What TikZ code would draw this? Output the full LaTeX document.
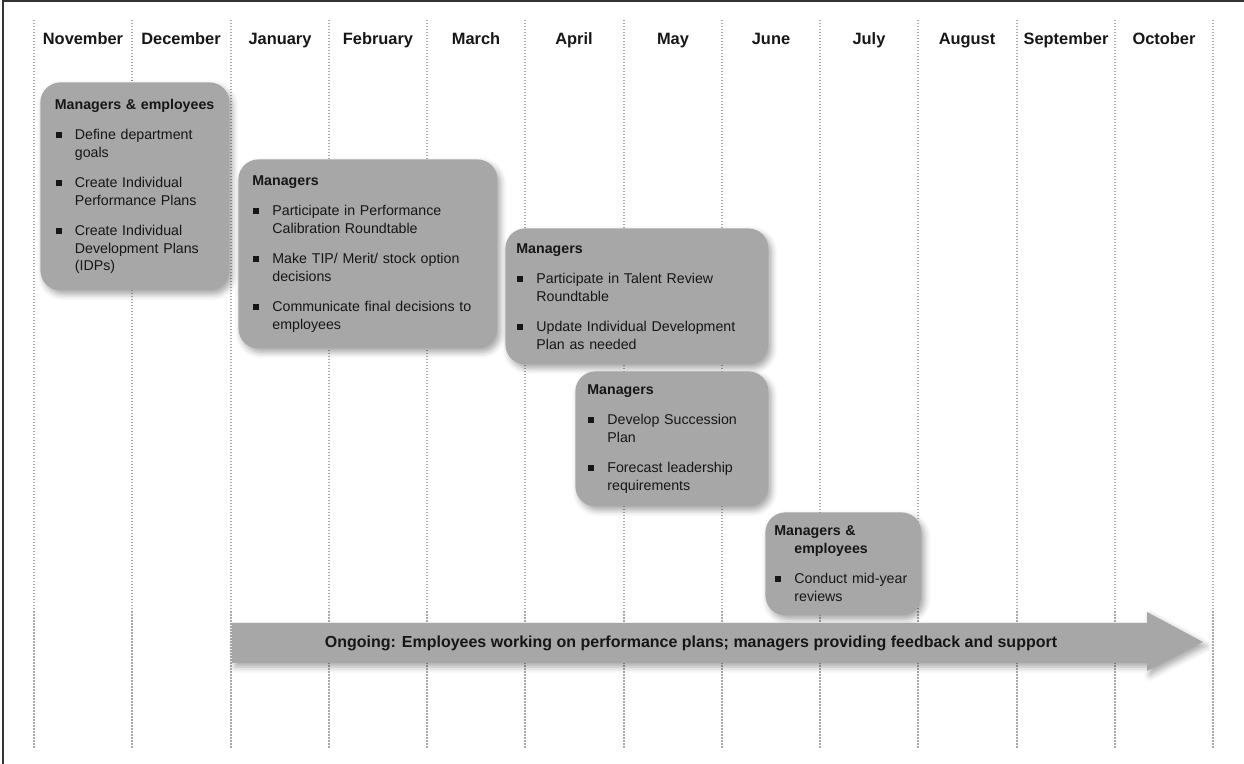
\documentclass[tikz,border=0pt]{standalone}
\usepackage{fontspec}
\setmainfont{Liberation Sans}
\usetikzlibrary{shadows.blur}

\definecolor{taskgray}{RGB}{167,167,167}
\definecolor{gridgray}{RGB}{170,170,170}
\definecolor{inkgray}{RGB}{22,22,22}

\newcommand{\tbul}{\makebox[10pt][l]{\hspace{0.5pt}\rule[0.9pt]{3pt}{3pt}}}
\newcommand{\tind}{\hspace*{10pt}}

\begin{document}
\begin{tikzpicture}[x=0.5pt,y=-0.5pt,
    monthlbl/.style={font=\fontsize{8.2pt}{10pt}\selectfont\bfseries,
      text=inkgray,inner sep=0pt,anchor=base},
    monthline/.style={gridgray,line width=.85pt,dash pattern=on .75pt off .75pt},
    softshadow/.style={blur shadow={shadow xshift=1.5pt,shadow yshift=-2pt,
      shadow blur radius=3pt,shadow opacity=35}},
    task/.style={anchor=north west,fill=taskgray,rounded corners=10pt,
      align=left,inner ysep=0pt,inner xsep=6pt,text=inkgray,softshadow,
      font=\fontsize{7.1pt}{8.75pt}\selectfont}]
    \useasboundingbox (0,0) rectangle (1244,764);

    % Frame of the page, top and left only.
    \draw[line width=.8pt,black!80] (3,764) -- (3,1) -- (1244,1);

    % The month separators.
    \draw[monthline] (34,20) -- (34,748);
    \draw[monthline] (132,20) -- (132,748);
    \draw[monthline] (231,20) -- (231,748);
    \draw[monthline] (329,20) -- (329,748);
    \draw[monthline] (427,20) -- (427,748);
    \draw[monthline] (525,20) -- (525,748);
    \draw[monthline] (624,20) -- (624,748);
    \draw[monthline] (722,20) -- (722,748);
    \draw[monthline] (820,20) -- (820,748);
    \draw[monthline] (918,20) -- (918,748);
    \draw[monthline] (1017,20) -- (1017,748);
    \draw[monthline] (1115,20) -- (1115,748);
    \draw[monthline] (1213,20) -- (1213,748);

    \node[monthlbl] (nov) at (83,45) {November};
    \node[monthlbl] (dec) at (181,45) {December};
    \node[monthlbl] (jan) at (280,45) {January};
    \node[monthlbl] (feb) at (378,45) {February};
    \node[monthlbl] (mar) at (476,45) {March};
    \node[monthlbl] (apr) at (574,45) {April};
    \node[monthlbl] (may) at (673,45) {May};
    \node[monthlbl] (jun) at (771,45) {June};
    \node[monthlbl] (jul) at (869,45) {July};
    \node[monthlbl] (aug) at (967,45) {August};
    \node[monthlbl] (sep) at (1066,45) {September};
    \node[monthlbl] (oct) at (1164,45) {October};

    % The five task boxes, each spanning its months.
    \node[task,inner xsep=7.25pt,text width=80pt,minimum height=104pt]
      (goals) at (40,82)
      {{\bfseries Managers \& employees}\\[6.5pt]
       \tbul Define department\\
       \tind goals\\[6.5pt]
       \tbul Create Individual\\
       \tind Performance Plans\\[6.5pt]
       \tbul Create Individual\\
       \tind Development Plans\\
       \tind (IDPs)};
    \node[task,inner xsep=7pt,text width=115.5pt,minimum height=94.5pt]
      (calib) at (238,159)
      {{\bfseries Managers}\\[6.5pt]
       \tbul Participate in Performance\\
       \tind Calibration Roundtable\\[6.5pt]
       \tbul Make TIP/ Merit/ stock option\\
       \tind decisions\\[6.5pt]
       \tbul Communicate final decisions to\\
       \tind employees};
    \node[task,inner xsep=5.5pt,text width=120.5pt,minimum height=68pt]
      (talent) at (505,228)
      {{\bfseries Managers}\\[6.5pt]
       \tbul Participate in Talent Review\\
       \tind Roundtable\\[6.5pt]
       \tbul Update Individual Development\\
       \tind Plan as needed};
    \node[task,text width=84.5pt,minimum height=67.5pt]
      (succession) at (575,371)
      {{\bfseries Managers}\\[6.5pt]
       \tbul Develop Succession\\
       \tind Plan\\[6.5pt]
       \tbul Forecast leadership\\
       \tind requirements};
    \node[task,inner xsep=4.5pt,text width=69pt,minimum height=51.5pt]
      (midyear) at (765,512)
      {{\bfseries Managers \&}\\
       \tind{\bfseries employees}\\[6.5pt]
       \tbul Conduct mid-year\\
       \tind reviews};

    % The ongoing arrow along the bottom.
    \fill[taskgray,softshadow] (232,623) -- (1147,623) -- (1147,612)
      -- (1203,642) -- (1147,671) -- (1147,663) -- (232,663) -- cycle;
    \node[font=\fontsize{8pt}{10pt}\selectfont\bfseries,text=inkgray]
      (ongoing) at (691,643)
      {Ongoing: Employees working on performance plans; managers providing feedback and support};
  \end{tikzpicture}
\end{document}
